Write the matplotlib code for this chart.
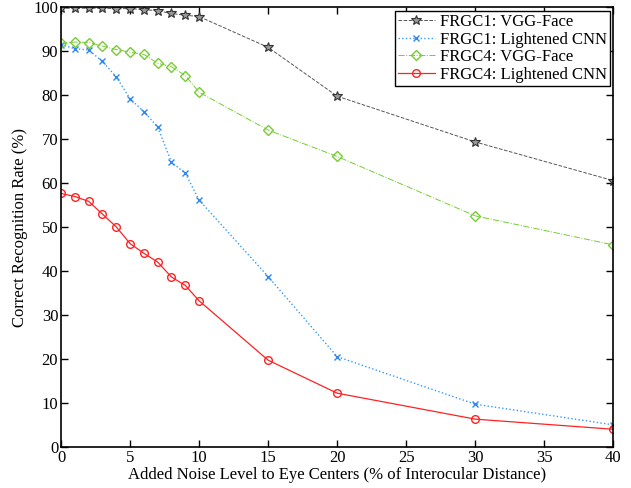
import numpy as np
import matplotlib.pyplot as plt

plt.rcParams['font.family'] = ['Liberation Serif', 'DejaVu Serif']

# noise levels (% of interocular distance)
noise = [0, 1, 2, 3, 4, 5, 6, 7, 8, 9, 10, 15, 20, 30, 40]

frgc1_vgg = [99.8, 99.8, 99.8, 99.8, 99.7, 99.7, 99.5, 99.2, 98.6, 98.2, 97.9, 90.9, 79.8, 69.4, 60.6]
frgc1_lcnn = [91.5, 90.6, 90.3, 87.7, 84.2, 79.2, 76.3, 72.8, 64.8, 62.3, 56.2, 38.8, 20.6, 9.8, 5.1]
frgc4_vgg = [91.8, 92.1, 92.0, 91.2, 90.4, 89.8, 89.3, 87.3, 86.5, 84.5, 80.7, 72.1, 66.1, 52.6, 46.0]
frgc4_lcnn = [57.7, 57.0, 55.9, 53.0, 50.1, 46.3, 44.1, 42.1, 38.7, 36.8, 33.3, 19.8, 12.3, 6.4, 4.1]

fig = plt.figure(figsize=(6.31, 4.88), dpi=100)
ax = fig.add_axes([0.0967, 0.0834, 0.8753, 0.9016])

ax.plot(noise, frgc1_vgg, '--', color='#555555', lw=0.7, marker='*', ms=7,
        mfc='#999999', mec='#333333', mew=0.8, label='FRGC1: VGG-Face')
ax.plot(noise, frgc1_lcnn, ':', color='#3399ff', lw=1.0, marker='x', ms=5,
        mec='#3388ee', mew=1.0, label='FRGC1: Lightened CNN')
ax.plot(noise, frgc4_vgg, '-.', color='#77cc33', lw=0.7, marker='D', ms=5,
        mfc='none', mec='#77cc33', mew=1.0, label='FRGC4: VGG-Face')
ax.plot(noise, frgc4_lcnn, '-', color='#ff2222', lw=0.9, marker='o', ms=5.5,
        mfc='none', mec='#ff2222', mew=1.0, label='FRGC4: Lightened CNN')

ax.set_xlim(0, 40)
ax.set_ylim(0, 100)
ax.set_xticks(np.arange(0, 41, 5))
ax.set_yticks(np.arange(0, 101, 10))
ax.tick_params(direction='in', top=True, right=True, labelsize=12, length=5, width=1, pad=2)
for s in ax.spines.values():
    s.set_linewidth(1.2)

ax.set_xlabel('Added Noise Level to Eye Centers (% of Interocular Distance)', fontsize=12, labelpad=1)
ax.set_ylabel('Correct Recognition Rate (%)', fontsize=12, labelpad=4)

leg = ax.legend(loc='upper right', fontsize=12, fancybox=False, framealpha=1,
                edgecolor='black', borderaxespad=0.2, borderpad=0.2,
                labelspacing=0.1, handlelength=2.2, handletextpad=0.3)
leg.get_frame().set_linewidth(1.0)

fig.savefig('out.png', dpi=100)
